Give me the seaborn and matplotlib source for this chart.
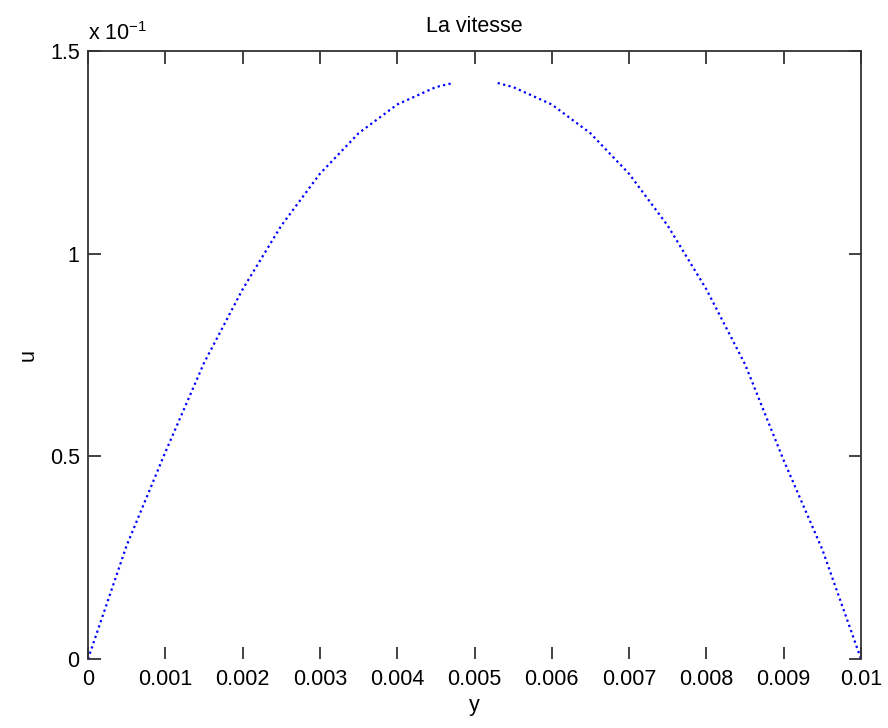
import numpy as np
import pandas as pd
import matplotlib
matplotlib.use("Agg")
import matplotlib.pyplot as plt
import seaborn as sns

# Velocity profile across the channel (u in units of 1e-1), two branches
# separated by the missing sample around the centre line.
y_left = [0.0, 0.0005, 0.001, 0.0015, 0.002, 0.0025, 0.003, 0.0035, 0.004, 0.0045, 0.0047]
u_left = [0.0, 0.28, 0.51, 0.73, 0.912, 1.069, 1.197, 1.297, 1.368, 1.411, 1.420]
y_right = [0.0053, 0.0055, 0.006, 0.0065, 0.007, 0.0075, 0.008, 0.0085, 0.009, 0.0095, 0.01]
u_right = [1.421, 1.411, 1.368, 1.297, 1.197, 1.069, 0.912, 0.727, 0.49, 0.27, 0.0]

x_ticks = [0, 0.001, 0.002, 0.003, 0.004, 0.005, 0.006, 0.007, 0.008, 0.009, 0.01]
x_tick_labels = ["0", "0.001", "0.002", "0.003", "0.004", "0.005",
                 "0.006", "0.007", "0.008", "0.009", "0.01"]
y_ticks = [0, 0.5, 1.0, 1.5]
y_tick_labels = ["0", "0.5", "1", "1.5"]

df = pd.DataFrame({
    "y": y_left + y_right,
    "u": u_left + u_right,
    "branch": ["left"] * len(y_left) + ["right"] * len(y_right),
})

sns.set_theme(style="white")
plt.rcParams["font.family"] = ["Liberation Sans", "DejaVu Sans"]
plt.rcParams["mathtext.fontset"] = "custom"
plt.rcParams["mathtext.rm"] = "Liberation Sans"
plt.rcParams["mathtext.it"] = "Liberation Sans"
plt.rcParams["text.color"] = "black"
plt.rcParams["axes.labelcolor"] = "black"

fs = 15.5
fig = plt.figure(figsize=(8.88, 7.28), dpi=100)
ax = fig.add_axes([88 / 888, 1 - 659 / 728, (861 - 88) / 888, (659 - 51) / 728])

sns.lineplot(data=df, x="y", y="u", units="branch", estimator=None,
             color="#0000ff", linewidth=1.6, linestyle=(0, (1, 1.5)),
             ax=ax, legend=False)

ax.set_xlim(0, 0.01)
ax.set_ylim(0, 1.5)
ax.set_xticks(x_ticks)
ax.set_xticklabels(x_tick_labels)
ax.set_yticks(y_ticks)
ax.set_yticklabels(y_tick_labels)

ax.tick_params(axis="both", which="major", direction="in", length=9, width=1.2,
               color="#222222", labelsize=fs, labelcolor="black",
               top=True, right=True, bottom=True, left=True)
ax.tick_params(axis="x", pad=7)
ax.tick_params(axis="y", pad=6)

for side, spine in ax.spines.items():
    spine.set_color("#333333")
    spine.set_linewidth(1.3)
ax.spines["bottom"].set_visible(False)

ax.set_title("La vitesse", fontsize=fs, pad=14, color="black")
ax.set_xlabel("y", fontsize=fs, labelpad=4)
ax.set_ylabel("u", fontsize=fs, labelpad=8)

fig.text(88 / 888, 1 - 40 / 728, r"x 10$^{-1}$", fontsize=fs, ha="left",
         va="baseline", color="black")

fig.savefig("out.png", dpi=100, facecolor="white")
